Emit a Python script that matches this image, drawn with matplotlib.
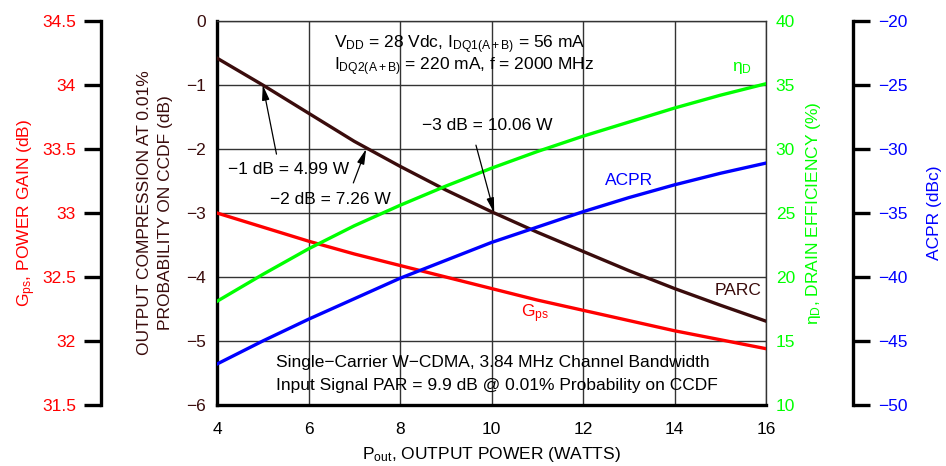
import matplotlib
matplotlib.use("Agg")
import matplotlib.pyplot as plt

plt.rcParams['font.family'] = ['Liberation Sans', 'DejaVu Sans']
plt.rcParams['mathtext.fontset'] = 'custom'
plt.rcParams['mathtext.rm'] = 'Liberation Sans'
plt.rcParams['mathtext.it'] = 'Liberation Sans'
plt.rcParams['axes.unicode_minus'] = True

# ---- data ----
pout = [4, 5, 6, 7, 8, 9, 10, 11, 12, 13, 14, 15, 16]
parc = [-0.58, -1.00, -1.44, -1.88, -2.27, -2.64, -2.98, -3.30, -3.60, -3.90, -4.18, -4.44, -4.69]
gps = [33.00, 32.89, 32.78, 32.68, 32.59, 32.50, 32.41, 32.32, 32.24, 32.16, 32.08, 32.01, 31.94]
eta = [18.1, 20.2, 22.2, 24.0, 25.6, 27.1, 28.5, 29.8, 31.0, 32.1, 33.2, 34.2, 35.1]
acpr = [-46.8, -45.0, -43.3, -41.7, -40.1, -38.7, -37.3, -36.1, -34.9, -33.8, -32.8, -31.9, -31.1]

x_ticks = [4, 6, 8, 10, 12, 14, 16]
parc_ticks = [0, -1, -2, -3, -4, -5, -6]
gps_ticks = [31.5, 32, 32.5, 33, 33.5, 34, 34.5]
gps_tick_labels = ['31.5', '32', '32.5', '33', '33.5', '34', '34.5']
eta_ticks = [10, 15, 20, 25, 30, 35, 40]
acpr_ticks = [-50, -45, -40, -35, -30, -25, -20]

C_PARC = '#3a0c0c'
C_GPS = '#ff0000'
C_ETA = '#00ff00'
C_ACPR = '#0000ff'
LW = 2.4
FS = 12.5

fig = plt.figure(figsize=(9.46, 4.66), dpi=100)
L, R, B, T = 217/946, 766/946, 1 - 405/466, 1 - 21/466
ax = fig.add_axes([L, B, R - L, T - B])
AW = 766 - 217

ax.set_xlim(4, 16)
ax.set_ylim(-6, 0)
ax.set_xticks(x_ticks)
ax.set_yticks(parc_ticks)
ax.grid(True, color='#333333', lw=1.0)
ax.tick_params(axis='both', length=0, labelsize=FS)
ax.tick_params(axis='x', pad=12)
ax.tick_params(axis='y', pad=8, labelcolor=C_PARC)
for s in ['left', 'bottom']:
    ax.spines[s].set_linewidth(2.4)
for s in ['top', 'right']:
    ax.spines[s].set_linewidth(1.0)
    ax.spines[s].set_color('#333333')
ax.plot(pout, parc, color=C_PARC, lw=LW, zorder=5)
ax.set_xlabel(r'P$_{\mathregular{out}}$, OUTPUT POWER (WATTS)', fontsize=FS, labelpad=6)
ax.set_ylabel('OUTPUT COMPRESSION AT 0.01%\nPROBABILITY ON CCDF (dB)', fontsize=FS,
              color=C_PARC, linespacing=1.5)
ax.yaxis.set_label_coords((173 - 217) / AW, 0.5)

# Gps axis (far left)
ax_g = ax.twinx()
ax_g.set_ylim(31.5, 34.5)
ax_g.yaxis.set_ticks_position('left')
ax_g.yaxis.set_label_position('left')
ax_g.spines['left'].set_position(('axes', (101 - 217) / AW))
ax_g.spines['left'].set_visible(True)
ax_g.spines['left'].set_linewidth(2.4)
for s in ['right', 'top', 'bottom']:
    ax_g.spines[s].set_visible(False)
ax_g.set_yticks(gps_ticks)
ax_g.set_yticklabels(gps_tick_labels)
ax_g.tick_params(axis='y', direction='out', length=12, width=2.4, labelsize=FS,
                 labelcolor=C_GPS, pad=6)
ax_g.plot(pout, gps, color=C_GPS, lw=LW)
ax_g.set_ylabel(r'G$_{\mathregular{ps}}$, POWER GAIN (dB)', fontsize=FS, color=C_GPS)
ax_g.yaxis.set_label_coords((38 - 217) / AW, 0.5)

# eta axis (right)
ax_e = ax.twinx()
ax_e.set_ylim(10, 40)
ax_e.set_yticks(eta_ticks)
for s in ['left', 'top', 'bottom', 'right']:
    ax_e.spines[s].set_visible(False)
ax_e.tick_params(axis='y', length=0, labelsize=FS, labelcolor=C_ETA, pad=7)
ax_e.plot(pout, eta, color=C_ETA, lw=LW)
ax_e.set_ylabel('\u03b7$_{\\mathregular{D}}$, DRAIN EFFICIENCY (%)', fontsize=FS, color=C_ETA,
                labelpad=6)

# ACPR axis (far right)
ax_a = ax.twinx()
ax_a.set_ylim(-50, -20)
ax_a.set_yticks(acpr_ticks)
ax_a.spines['right'].set_position(('axes', (853 - 217) / AW))
ax_a.spines['right'].set_linewidth(2.4)
for s in ['left', 'top', 'bottom']:
    ax_a.spines[s].set_visible(False)
ax_a.tick_params(axis='y', direction='out', length=12, width=2.4, labelsize=FS,
                 labelcolor=C_ACPR, pad=6)
ax_a.plot(pout, acpr, color=C_ACPR, lw=LW)
ax_a.set_ylabel('ACPR (dBc)', fontsize=FS, color=C_ACPR, labelpad=14)

# annotations (placed in the main axes' data coordinates)
top = ax_a
tr = ax.transData
arrow = dict(arrowstyle='-|>,head_length=0.9,head_width=0.22', color='black', lw=0.9,
             shrinkA=0, shrinkB=0)
top.annotate('', xy=(5.0, -1.0), xycoords=tr, xytext=(5.30, -2.08), textcoords=tr,
             arrowprops=arrow)
top.annotate('', xy=(7.26, -2.0), xycoords=tr, xytext=(6.98, -2.53), textcoords=tr,
             arrowprops=arrow)
top.annotate('', xy=(10.06, -3.0), xycoords=tr, xytext=(9.66, -1.94), textcoords=tr,
             arrowprops=arrow)
top.text(4.25, -2.32, '\u22121 dB = 4.99 W', transform=tr, fontsize=FS, va='center', ha='left')
top.text(5.15, -2.79, '\u22122 dB = 7.26 W', transform=tr, fontsize=FS, va='center', ha='left')
top.text(8.47, -1.64, '\u22123 dB = 10.06 W', transform=tr, fontsize=FS, va='center', ha='left')

top.text(6.55, -0.37, r'V$_{\mathregular{DD}}$ = 28 Vdc, I$_{\mathregular{DQ1(A+B)}}$ = 56 mA',
         transform=tr, fontsize=FS, va='center', ha='left')
top.text(6.55, -0.71, r'I$_{\mathregular{DQ2(A+B)}}$ = 220 mA, f = 2000 MHz',
         transform=tr, fontsize=FS, va='center', ha='left')

top.text(5.29, -5.34, 'Single\u2212Carrier W\u2212CDMA, 3.84 MHz Channel Bandwidth',
         transform=tr, fontsize=FS, va='center', ha='left')
top.text(5.29, -5.69, 'Input Signal PAR = 9.9 dB @ 0.01% Probability on CCDF',
         transform=tr, fontsize=FS, va='center', ha='left')

top.text(15.26, -0.74, '\u03b7$_{\\mathregular{D}}$', transform=tr, fontsize=FS, color=C_ETA,
         va='center', ha='left')
top.text(12.49, -2.49, 'ACPR', transform=tr, fontsize=FS, color=C_ACPR, va='center', ha='left')
top.text(10.65, -4.58, r'G$_{\mathregular{ps}}$', transform=tr, fontsize=FS, color=C_GPS,
         va='center', ha='left')
top.text(14.87, -4.21, 'PARC', transform=tr, fontsize=FS, color=C_PARC, va='center', ha='left')

fig.savefig('out.png', dpi=100)
